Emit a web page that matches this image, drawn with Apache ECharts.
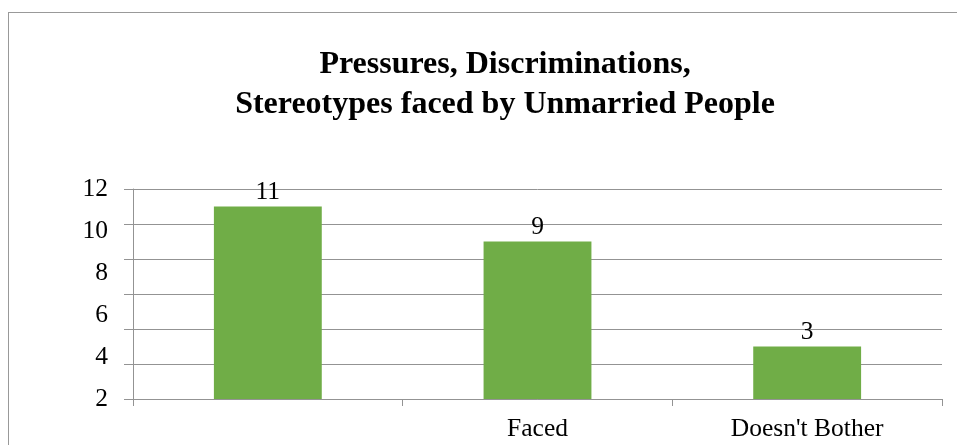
<!DOCTYPE html>
<html>
<head>
<meta charset="utf-8">
<script src="https://cdn.jsdelivr.net/npm/echarts@6/dist/echarts.min.js"></script>
<style>
  html, body { margin: 0; padding: 0; background: #fff; overflow: hidden; }
  #frame { position: absolute; left: 8px; top: 12px; width: 960px; height: 440px;
           border-left: 1px solid #999; border-top: 1px solid #999; }
  #chart { position: absolute; left: 0; top: 0; width: 957px; height: 445px; }
</style>
</head>
<body>
<div id="frame"></div>
<div id="chart"></div>
<script>
// Survey responses: how unmarried people relate to social pressure
const categories = ['', 'Faced', "Doesn't Bother"];
const responses = [11, 9, 3];
// value scale used by the bars and gridlines
const valueScale = { min: 0, max: 12, interval: 2 };
// tick labels printed along the left edge, bottom to top
const yTickLabels = ['2', '4', '6', '8', '10', '12'];
const titleLines = ['Pressures, Discriminations,', 'Stereotypes faced by Unmarried People'];

const serif = '"Liberation Serif", "Times New Roman", serif';
const gridGrey = '#939393';

const chart = echarts.init(document.getElementById('chart'), null, { renderer: 'canvas' });
chart.setOption({
  backgroundColor: 'transparent',
  animation: false,
  title: {
    text: titleLines.join('\n'),
    left: 505,
    top: 45,
    padding: 0,
    textAlign: 'center',
    textStyle: {
      fontFamily: serif,
      fontWeight: 'bold',
      fontSize: 32,
      lineHeight: 40,
      color: '#000'
    }
  },
  grid: { left: 133, right: 15, top: 189, bottom: 46, containLabel: false },
  xAxis: {
    type: 'category',
    data: categories,
    axisLine: { show: true, lineStyle: { color: gridGrey, width: 1 } },
    axisTick: { show: true, length: 7, alignWithLabel: false, lineStyle: { color: gridGrey } },
    axisLabel: { fontFamily: serif, fontSize: 25.5, color: '#000', margin: 17, interval: 0 },
    splitLine: { show: false }
  },
  yAxis: [{
    type: 'value',
    min: valueScale.min,
    max: valueScale.max,
    interval: valueScale.interval,
    axisLine: { show: true, lineStyle: { color: gridGrey, width: 1 } },
    axisTick: { show: true, length: 9, lineStyle: { color: gridGrey } },
    axisLabel: { show: false },
    splitLine: { show: true, lineStyle: { color: gridGrey, width: 1 } }
  }, {
    type: 'category',
    position: 'left',
    data: yTickLabels,
    boundaryGap: false,
    axisLine: { show: false },
    axisTick: { show: false },
    splitLine: { show: false },
    axisLabel: {
      fontFamily: serif, fontSize: 25.5, color: '#000', margin: 25, interval: 0,
      padding: [6, 0, 0, 0]
    }
  }],
  series: [{
    type: 'bar',
    data: responses,
    yAxisIndex: 0,
    barWidth: '40%',
    clip: true,
    itemStyle: { color: '#70AD47' },
    label: {
      show: true,
      position: 'top',
      distance: 1,
      fontFamily: serif,
      fontSize: 25.5,
      color: '#000'
    }
  }]
});
</script>
</body>
</html>
